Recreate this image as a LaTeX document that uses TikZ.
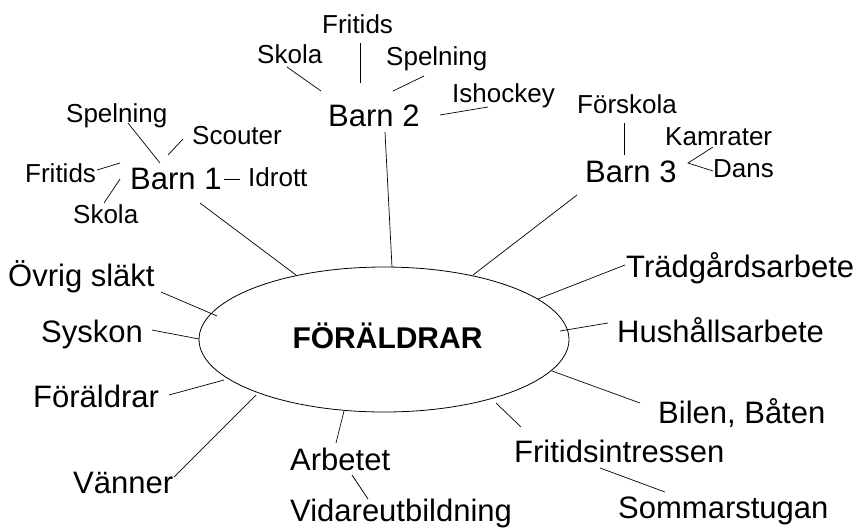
\documentclass[tikz,border=0pt]{standalone}
\usepackage{fontspec}
\setmainfont{Liberation Sans}
\begin{document}
\begin{tikzpicture}[x=1pt,y=-1pt,
  big/.style={anchor=base west,inner sep=0pt,font=\fontsize{31}{36}\selectfont},
  small/.style={anchor=base west,inner sep=0pt,font=\fontsize{26}{30}\selectfont},
  link/.style={draw=black,line width=0.7pt}]
\useasboundingbox (0,0) rectangle (856,528);
% central ellipse
\draw[line width=0.8pt] (384,339.5) ellipse [x radius=185, y radius=72.5];
\node[anchor=base,inner sep=0pt,font=\fontsize{30}{36}\selectfont\bfseries] (center) at (387.5,348) {FÖRÄLDRAR};

% big labels
\node[big] (b1) at (130,189) {Barn 1};
\node[big] (b2) at (328,126) {Barn 2};
\node[big] (b3) at (585,182) {Barn 3};
\node[big] (ovr) at (8,286) {Övrig släkt};
\node[big] (sys) at (41,342) {Syskon};
\node[big] (for) at (33,407) {Föräldrar};
\node[big] (van) at (73,493) {Vänner};
\node[big] (arb) at (290,470) {Arbetet};
\node[big] (vid) at (290,521) {Vidareutbildning};
\node[big] (fri) at (514,462) {Fritidsintressen};
\node[big] (som) at (618,518) {Sommarstugan};
\node[big] (bil) at (658,423) {Bilen, Båten};
\node[big] (hus) at (617,342) {Hushållsarbete};
\node[big] (tra) at (626,277) {Trädgårdsarbete};

% small labels
\node[small] (sp1) at (66,122) {Spelning};
\node[small] (sco) at (192,144) {Scouter};
\node[small] (fr1) at (25,182) {Fritids};
\node[small] (idr) at (248,186) {Idrott};
\node[small] (sk1) at (73,223) {Skola};
\node[small] (fr2) at (322,33) {Fritids};
\node[small] (sk2) at (257,63) {Skola};
\node[small] (sp2) at (386,65) {Spelning};
\node[small] (ish) at (452,102) {Ishockey};
\node[small] (fsk) at (577,113) {Förskola};
\node[small] (kam) at (665,145) {Kamrater};
\node[small] (dan) at (713,177) {Dans};

% connector end points
\coordinate (b1a) at (200,203);   \coordinate (b1e) at (296,275);
\coordinate (b2a) at (385,132);   \coordinate (b2e) at (392,267);
\coordinate (b3a) at (577,195);   \coordinate (b3e) at (473,275);
\coordinate (ovra) at (161,292);  \coordinate (ovre) at (217,316);
\coordinate (sysa) at (152,330);  \coordinate (syse) at (199,339);
\coordinate (fora) at (169,395);  \coordinate (fore) at (224,380);
\coordinate (vana) at (174,477);  \coordinate (vane) at (256,395);
\coordinate (arba) at (336,443);  \coordinate (arbe) at (344,411);
\coordinate (vida) at (368,499);  \coordinate (vide) at (352,475);
\coordinate (fria) at (521,427);  \coordinate (frie) at (496,403);
\coordinate (soma) at (665,492);  \coordinate (some) at (600,468);
\coordinate (bila) at (640,403);  \coordinate (bile) at (552,371);
\coordinate (husa) at (608,323);  \coordinate (huse) at (560,331);
\coordinate (traa) at (625,265);  \coordinate (trae) at (538,299);
\coordinate (sp1a) at (128,123);  \coordinate (sp1e) at (160,163);
\coordinate (scoa) at (183,139);  \coordinate (scoe) at (168,155);
\coordinate (fr1a) at (97,170);   \coordinate (fr1e) at (120,163);
\coordinate (sk1a) at (104,203);  \coordinate (sk1e) at (120,179);
\coordinate (idra) at (240,179);  \coordinate (idre) at (224,179);
\coordinate (sk2a) at (287,67);   \coordinate (sk2e) at (321,91);
\coordinate (fr2a) at (360,43);   \coordinate (fr2e) at (360,83);
\coordinate (sp2a) at (424,76);   \coordinate (sp2e) at (393,91);
\coordinate (isha) at (488,107);  \coordinate (ishe) at (440,115);
\coordinate (fska) at (624,123);  \coordinate (fske) at (624,155);
\coordinate (kama) at (713,147);  \coordinate (kame) at (688,163);
\coordinate (dana) at (713,171);

% connectors
\draw[link] (b1a) -- (b1e);
\draw[link] (b2a) -- (b2e);
\draw[link] (b3a) -- (b3e);
\draw[link] (ovra) -- (ovre);
\draw[link] (sysa) -- (syse);
\draw[link] (fora) -- (fore);
\draw[link] (vana) -- (vane);
\draw[link] (arba) -- (arbe);
\draw[link] (vida) -- (vide);
\draw[link] (fria) -- (frie);
\draw[link] (soma) -- (some);
\draw[link] (bila) -- (bile);
\draw[link] (husa) -- (huse);
\draw[link] (traa) -- (trae);
\draw[link] (sp1a) -- (sp1e);
\draw[link] (scoa) -- (scoe);
\draw[link] (fr1a) -- (fr1e);
\draw[link] (sk1a) -- (sk1e);
\draw[link] (idra) -- (idre);
\draw[link] (sk2a) -- (sk2e);
\draw[link] (fr2a) -- (fr2e);
\draw[link] (sp2a) -- (sp2e);
\draw[link] (isha) -- (ishe);
\draw[link] (fska) -- (fske);
\draw[link] (kama) -- (kame) -- (dana);
\end{tikzpicture}
\end{document}
